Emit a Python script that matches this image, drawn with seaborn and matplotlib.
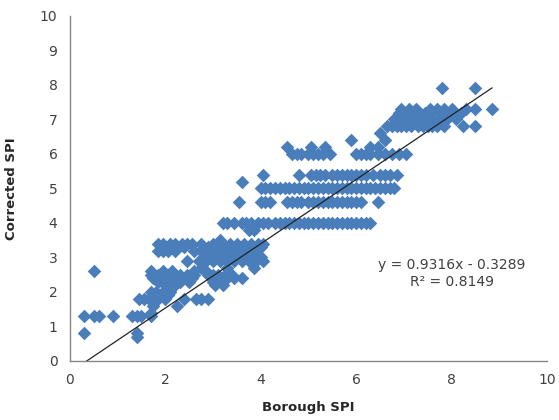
import numpy as np
import pandas as pd
import seaborn as sns
import matplotlib
matplotlib.use("Agg")
import matplotlib.pyplot as plt

# Corrected SPI levels (rows of points) and the Borough SPI values found on each
levels = [0.7, 0.8, 1.3, 1.4, 1.6, 1.8, 1.9, 2.0, 2.2, 2.3, 2.4, 2.5, 2.6, 2.7,
          2.9, 3.0, 3.2, 3.3, 3.4, 3.5, 3.8, 4.0, 4.6, 5.0, 5.2, 5.4, 6.0, 6.2,
          6.4, 6.6, 6.8, 7.0, 7.2, 7.3, 7.9]

row_x = [
    [1.4],
    [0.3, 1.4],
    [0.3, 0.5, 0.6, 0.9, 1.3, 1.4, 1.5, 1.7],
    [1.7],
    [1.75, 2.25],
    [1.45, 1.55, 1.65, 1.85, 2.0, 2.4, 2.65, 2.75, 2.9],
    [1.9, 2.05],
    [1.7, 1.8, 1.95, 2.1],
    [2.0, 2.1, 2.2, 3.05, 3.2],
    [1.85, 2.3, 2.5, 3.0],
    [1.75, 1.9, 2.0, 2.15, 2.4, 2.55, 3.15, 3.3, 3.45, 3.6],
    [1.7, 1.85, 2.05, 2.2, 2.3, 2.45, 2.6, 2.9, 3.0, 3.1, 3.25, 3.4],
    [0.5, 1.7, 1.95, 2.15, 2.6, 2.85],
    [2.75, 3.3, 3.85],
    [2.45, 2.7, 2.85, 3.0, 3.15, 3.3, 3.45, 3.6, 3.75, 3.9, 4.05],
    [2.9, 3.1, 3.25, 3.4, 3.55, 3.7, 3.85, 4.0],
    [1.85, 1.95, 2.05, 2.2, 2.6, 2.75, 3.0, 3.15, 3.3, 3.45, 3.6, 3.75, 3.9],
    [2.0, 2.4, 2.9, 3.05, 3.25, 3.5, 3.7, 4.0],
    [1.85, 1.95, 2.1, 2.2, 2.35, 2.45, 2.55, 2.75, 3.0, 3.1, 3.2, 3.35, 3.5,
     3.65, 3.8, 3.95, 4.05],
    [3.15],
    [3.75, 3.85],
    [3.2, 3.3, 3.45, 3.6, 3.7, 3.8, 3.95, 4.05, 4.15, 4.3, 4.4, 4.5, 4.6, 4.7,
     4.8, 4.9, 5.0, 5.1, 5.2, 5.3, 5.4, 5.5, 5.6, 5.7, 5.8, 5.9, 6.0, 6.1,
     6.2, 6.3],
    [3.55, 4.0, 4.1, 4.2, 4.55, 4.65, 4.75, 4.85, 5.0, 5.1, 5.2, 5.3, 5.4,
     5.5, 5.6, 5.7, 5.8, 5.9, 6.0, 6.1, 6.45],
    [4.0, 4.1, 4.2, 4.3, 4.4, 4.5, 4.6, 4.7, 4.8, 4.9, 5.0, 5.1, 5.2, 5.3,
     5.4, 5.5, 5.6, 5.7, 5.8, 5.9, 6.0, 6.1, 6.2, 6.3, 6.4, 6.5, 6.6, 6.7,
     6.8],
    [3.6],
    [4.05, 4.8, 5.05, 5.15, 5.25, 5.35, 5.5, 5.6, 5.7, 5.8, 5.9, 6.0, 6.1,
     6.2, 6.35, 6.5, 6.6, 6.7, 6.85],
    [4.65, 4.75, 4.85, 5.0, 5.1, 5.2, 5.3, 5.45, 6.0, 6.1, 6.2, 6.3, 6.45,
     6.6, 6.75, 6.9, 7.05],
    [4.55, 5.05, 5.35, 6.3, 6.45],
    [5.9, 6.6],
    [6.5],
    [6.65, 6.75, 6.85, 6.95, 7.05, 7.15, 7.3, 7.4, 7.5, 7.6, 7.7, 7.85, 8.25,
     8.5],
    [6.8, 6.95, 7.1, 7.25, 7.4, 7.6, 7.75, 7.9, 8.1],
    [6.9, 7.0, 7.15, 7.3, 7.45, 7.6, 7.75, 7.9, 8.05, 8.2],
    [6.95, 7.1, 7.25, 7.55, 7.7, 7.85, 8.0, 8.3, 8.5, 8.85],
    [7.8, 8.5],
]

# trendline from the chart
slope = 0.9316
intercept = -0.3289
r_squared = 0.8149

borough = [x for xs in row_x for x in xs]
corrected = [lv for lv, xs in zip(levels, row_x) for _ in xs]
data = pd.DataFrame({"Borough SPI": borough, "Corrected SPI": corrected})

sns.set_style("white")
plt.rcParams['font.family'] = ['DejaVu Sans']

fig = plt.figure(figsize=(5.59, 4.2), dpi=100)
ax = fig.add_axes([0.125, 0.1405, 0.8535, 0.8215])

sns.scatterplot(data=data, x="Borough SPI", y="Corrected SPI", ax=ax,
                marker="D", s=48, color="#4A7EBB", linewidth=0, legend=False)

xs = np.array([min(borough), max(borough)])
ax.plot(xs, slope * xs + intercept, color="#222222", linewidth=0.9)

ax.set_xlim(0, 10)
ax.set_ylim(0, 10)
ax.set_xticks(range(0, 11, 2))
ax.set_yticks(range(0, 11, 1))

for side in ["top", "right"]:
    ax.spines[side].set_visible(False)
for side in ["left", "bottom"]:
    ax.spines[side].set_color("#868686")
    ax.spines[side].set_linewidth(1.0)

ax.tick_params(axis="both", direction="out", length=5, width=1,
               color="#868686", labelcolor="#404040", labelsize=10, pad=4)

ax.set_xlabel("Borough SPI", fontsize=9.5, fontweight="bold", labelpad=10)
ax.set_ylabel("Corrected SPI", fontsize=9.5, fontweight="bold", labelpad=16)

eq_text = f"y = {slope:.4f}x - {abs(intercept):.4f}\nR\u00b2 = {r_squared:.4f}"
ax.text(8.0, 2.54, eq_text, ha="center", va="center", fontsize=10,
        color="#404040", linespacing=1.3)

fig.savefig("out.png", dpi=100)
